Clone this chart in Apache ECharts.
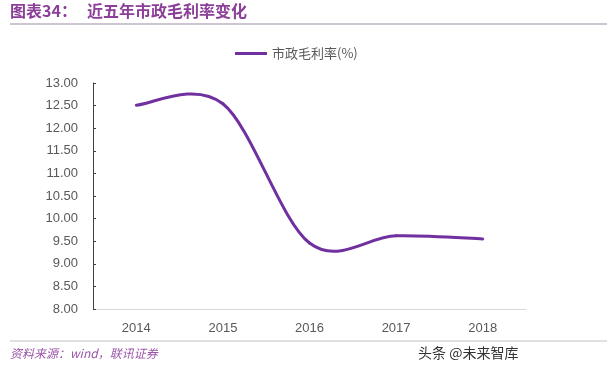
<!DOCTYPE html>
<html>
<head>
<meta charset="utf-8">
<script src="https://cdn.jsdelivr.net/npm/echarts@6/dist/echarts.min.js"></script>
<style>
html,body{margin:0;padding:0;background:#fff;}
#main{width:607px;height:369px;}
</style>
</head>
<body>
<div id="main"></div>
<script>
const categories = ['2014', '2015', '2016', '2017', '2018'];
const marginValues = [12.51, 12.54, 9.46, 9.62, 9.55];
const seriesName = '市政毛利率(%)';
const titleLabel = '图表34：';
const titleText = '近五年市政毛利率变化';
const sourceText = '资料来源：wind，联讯证券';
const watermarkText = '头条 @未来智库';

const chart = echarts.init(document.getElementById('main'));
const cjk = '"Noto Sans CJK SC", "Noto Sans", sans-serif';
const lineColor = '#7030a0';

// Excel-style smoothed line (Catmull-Rom -> cubic Bezier), built from axis coordinates
function renderSmooth(params, api) {
  if (params.dataIndex !== 0) return null;
  const pts = marginValues.map((v, i) => api.coord([i, v]));
  const n = pts.length;
  const children = [];
  for (let i = 0; i < n - 1; i++) {
    const p0 = pts[Math.max(i - 1, 0)];
    const p1 = pts[i];
    const p2 = pts[i + 1];
    const p3 = pts[Math.min(i + 2, n - 1)];
    children.push({
      type: 'bezierCurve',
      shape: {
        x1: p1[0], y1: p1[1],
        cpx1: p1[0] + (p2[0] - p0[0]) / 6, cpy1: p1[1] + (p2[1] - p0[1]) / 6,
        cpx2: p2[0] - (p3[0] - p1[0]) / 6, cpy2: p2[1] - (p3[1] - p1[1]) / 6,
        x2: p2[0], y2: p2[1]
      },
      style: { stroke: lineColor, lineWidth: 3, fill: null, lineCap: 'round' }
    });
  }
  return { type: 'group', children: children };
}

chart.setOption({
  animation: false,
  backgroundColor: '#ffffff',
  grid: { left: 93, right: 81, top: 83, bottom: 60 },
  legend: {
    data: [{ name: seriesName, icon: 'rect', itemStyle: { color: lineColor } }],
    top: 42,
    left: 230,
    itemWidth: 32,
    itemHeight: 3,
    itemGap: 6,
    textStyle: { color: '#595959', fontSize: 13, fontFamily: cjk }
  },
  xAxis: {
    type: 'category',
    data: categories,
    boundaryGap: true,
    axisLine: { lineStyle: { color: '#d9d9d9', width: 1 } },
    axisTick: { show: false },
    axisLabel: { color: '#595959', fontSize: 13, margin: 13, fontFamily: '"Liberation Sans", sans-serif' }
  },
  yAxis: {
    type: 'value',
    min: 8,
    max: 13,
    interval: 0.5,
    axisLine: { show: true, lineStyle: { color: '#404040', width: 1 } },
    axisTick: { show: true, inside: true, length: 3, lineStyle: { color: '#404040' } },
    splitLine: { show: false },
    axisLabel: {
      color: '#595959', fontSize: 13, margin: 15,
      fontFamily: '"Liberation Sans", sans-serif',
      formatter: v => v.toFixed(2)
    }
  },
  series: [{
    name: seriesName,
    type: 'custom',
    renderItem: renderSmooth,
    data: marginValues.map((v, i) => [i, v]),
    encode: { x: 0, y: 1 },
    itemStyle: { color: lineColor },
    clip: false
  }],
  graphic: [
    { type: 'text', left: 10, top: 3, style: { text: titleLabel, fill: '#8b3f98', font: 'bold 16px ' + cjk } },
    { type: 'text', left: 87, top: 3, style: { text: titleText, fill: '#8b3f98', font: 'bold 16px ' + cjk } },
    { type: 'rect', shape: { x: 10, y: 23, width: 597, height: 2 }, style: { fill: '#cdc6d0' } },
    { type: 'rect', shape: { x: 10, y: 340, width: 597, height: 2 }, style: { fill: '#e0e0e0' } },
    { type: 'text', left: 10, top: 347, style: { text: sourceText, fill: '#9b55a8', font: 'italic 12px ' + cjk } },
    { type: 'text', left: 418, top: 346, style: { text: watermarkText, fill: '#333333', font: '14px ' + cjk } }
  ]
});
</script>
</body>
</html>
